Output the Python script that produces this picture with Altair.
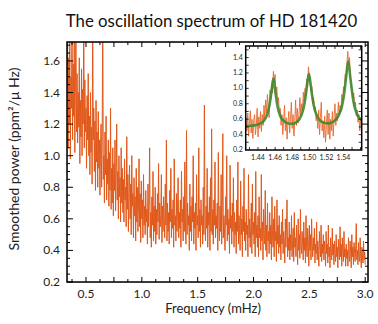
import altair as alt
import pandas as pd

# ---------------- data ----------------
F_START = 0.33
F_STEP = 0.005
power = [
    1.45, 1.78, 1.05, 1.62, 1.20, 1.85, 0.98, 1.50, 1.30, 1.90, 1.10, 1.58, 1.25, 1.72, 1.02, 1.45, 1.80, 1.15, 1.52, 1.08,
    1.40, 1.18, 1.62, 0.95, 1.35, 1.12, 1.55, 1.00, 1.42, 1.20, 1.90, 1.05, 1.48, 1.15, 1.30, 0.92, 1.38, 1.10, 1.52, 1.00,
    1.25, 0.88, 1.40, 1.02, 1.18, 0.82, 1.90, 1.10, 1.30, 0.90, 1.22, 0.78, 1.35, 0.96, 1.15, 0.80, 1.28, 0.92, 1.10, 0.75,
    1.05, 1.20, 0.80, 1.12, 1.90, 0.85, 1.00, 0.70, 1.15, 0.88, 1.25, 0.72, 0.98, 0.82, 1.10, 0.68, 1.02, 0.78, 1.30, 0.66,
    0.92, 0.70, 1.05, 0.62, 0.95, 0.78, 1.10, 0.65, 0.88, 1.20, 0.72, 0.90, 0.60, 1.00, 0.74, 0.86, 0.58, 1.05, 0.70, 0.92,
    0.64, 0.85, 0.58, 0.98, 0.72, 0.80, 0.55, 1.12, 0.66, 0.88, 0.52, 0.78, 0.94, 0.60, 0.82, 0.50, 1.00, 0.68, 0.76, 0.48,
    0.86, 0.62, 0.74, 0.46, 0.92, 0.58, 0.80, 0.52, 0.70, 0.98, 0.55, 0.76, 0.45, 0.84, 0.60, 0.72, 0.48, 0.88, 0.56, 0.68,
    0.50, 0.78, 0.58, 0.66, 0.44, 0.82, 0.55, 0.70, 1.05, 0.48, 0.64, 0.42, 0.74, 0.56, 0.90, 0.46, 0.68, 0.52, 0.80, 0.44,
    0.66, 0.50, 0.76, 0.58, 0.95, 0.47, 0.70, 0.55, 0.62, 0.88, 0.45, 0.68, 0.52, 0.74, 0.60, 0.48, 0.82, 0.56, 1.10, 0.46,
    0.70, 0.52, 0.64, 0.44, 0.78, 0.58, 0.92, 0.48, 0.66, 0.54, 0.72, 0.42, 0.98, 0.56, 0.62, 0.46, 0.76, 0.52, 0.68, 0.86,
    0.48, 0.64, 0.54, 0.72, 0.42, 0.90, 0.58, 0.66, 0.46, 0.74, 0.52, 0.96, 0.60, 0.44, 1.16, 0.50, 0.70, 0.56, 0.62, 0.40,
    0.82, 0.52, 0.68, 0.46, 0.74, 0.58, 1.00, 0.44, 0.64, 0.54, 0.70, 0.40, 0.88, 0.56, 0.62, 0.48, 1.05, 0.52, 0.66, 0.42,
    0.72, 0.56, 0.62, 0.44, 0.80, 0.50, 1.32, 0.58, 0.46, 0.68, 0.54, 0.92, 0.42, 0.64, 0.56, 0.74, 0.40, 0.86, 0.52, 1.17,
    0.50, 0.66, 0.44, 0.72, 0.56, 0.96, 0.48, 0.62, 0.54, 0.70, 0.40, 1.02, 0.58, 0.46, 0.68, 0.52, 0.88, 0.44, 0.64, 1.14,
    0.48, 0.62, 0.54, 0.40, 0.74, 0.56, 1.00, 0.46, 0.66, 0.50, 0.60, 0.38, 0.94, 0.54, 0.62, 0.44, 0.70, 0.52, 0.86, 0.42,
    0.64, 0.50, 0.58, 0.38, 0.72, 0.52, 0.96, 0.44, 0.62, 0.54, 0.40, 0.84, 0.50, 0.60, 0.36, 0.68, 0.52, 0.92, 0.46, 0.58,
    0.40, 0.66, 0.50, 0.56, 0.36, 0.88, 0.48, 0.60, 0.42, 0.54, 0.70, 0.38, 0.82, 0.50, 0.58, 0.44, 0.64, 0.36, 0.90, 0.48,
    0.56, 0.42, 0.62, 0.36, 0.74, 0.48, 0.54, 0.40, 0.88, 0.46, 0.58, 0.34, 0.66, 0.50, 0.44, 0.78, 0.40, 0.56, 0.36, 0.70,
    0.46, 0.52, 0.38, 0.64, 0.44, 0.56, 0.34, 0.74, 0.48, 0.42, 0.60, 0.36, 0.68, 0.46, 0.52, 0.33, 0.72, 0.44, 0.56, 0.38,
    0.62, 0.42, 0.50, 0.34, 0.58, 0.44, 0.66, 0.38, 0.52, 0.46, 0.32, 0.60, 0.42, 0.54, 0.72, 0.36, 0.48, 0.40, 0.58, 0.34,
    0.50, 0.40, 0.62, 0.36, 0.46, 0.54, 0.33, 0.64, 0.42, 0.48, 0.36, 0.56, 0.44, 0.31, 0.60, 0.40, 0.50, 0.35, 0.66, 0.42,
    0.38, 0.52, 0.44, 0.34, 0.58, 0.40, 0.48, 0.32, 0.62, 0.42, 0.36, 0.54, 0.46, 0.30, 0.56, 0.40, 0.50, 0.34, 0.60, 0.44,
    0.36, 0.48, 0.40, 0.54, 0.32, 0.44, 0.38, 0.58, 0.34, 0.46, 0.40, 0.30, 0.52, 0.42, 0.36, 0.56, 0.33, 0.44, 0.38, 0.50,
    0.34, 0.46, 0.40, 0.30, 0.52, 0.38, 0.44, 0.32, 0.56, 0.36, 0.42, 0.29, 0.48, 0.40, 0.34, 0.54, 0.37, 0.44, 0.31, 0.46,
    0.38, 0.33, 0.50, 0.36, 0.42, 0.29, 0.47, 0.39, 0.34, 0.55, 0.36, 0.44, 0.30, 0.48, 0.38, 0.33, 0.52, 0.36, 0.41, 0.30,
    0.44, 0.35, 0.40, 0.30, 0.48, 0.37, 0.33, 0.46, 0.39, 0.29, 0.50, 0.36, 0.42, 0.31, 0.45, 0.38, 0.33, 0.43, 0.57, 0.34,
    0.40, 0.31, 0.45, 0.36, 0.33, 0.48, 0.35, 0.29, 0.42, 0.37, 0.32, 0.46, 0.34, 0.39, 0.31,
]
freq = [round(F_START + F_STEP * i, 4) for i in range(len(power))]

# inset: zoom on 1.43 - 1.56 mHz
I_START = 1.426
I_STEP = 0.001
inset_power = [
    0.62, 0.45, 0.68, 0.38, 0.55, 0.71, 0.42, 0.60, 0.35, 0.58,
    0.66, 0.40, 0.52, 0.74, 0.37, 0.63, 0.48, 0.70, 0.44, 0.66,
    0.52, 0.78, 0.60, 0.85, 0.68, 0.92, 0.75, 0.62, 0.98, 0.86,
    1.05, 0.94, 1.22, 1.08, 1.18, 0.92, 1.02, 0.80, 0.88, 0.68,
    0.74, 0.52, 0.66, 0.40, 0.58, 0.78, 0.45, 0.62, 0.34, 0.55,
    0.70, 0.42, 0.60, 0.82, 0.48, 0.66, 0.38, 0.57, 0.85, 0.52,
    0.74, 0.55, 0.66, 0.88, 0.64, 0.80, 0.70, 0.95, 0.82, 1.00,
    0.90, 1.12, 1.02, 1.28, 1.14, 1.05, 0.96, 1.02, 0.80, 0.88,
    0.70, 0.76, 0.58, 0.66, 0.48, 0.72, 0.40, 0.62, 0.82, 0.45,
    0.58, 0.36, 0.64, 0.30, 0.52, 0.72, 0.40, 0.68, 0.34, 0.60,
    0.45, 0.70, 0.38, 0.62, 0.80, 0.52, 0.68, 0.58, 0.82, 0.66,
    0.78, 0.70, 0.92, 0.84, 1.02, 0.96, 1.18, 1.10, 1.32, 1.48,
    1.30, 1.40, 1.16, 1.06, 0.98, 0.88, 0.94, 0.76, 0.82, 0.64,
    0.72, 0.56, 0.66, 0.45, 0.60, 0.50,
]
inset_freq = [round(I_START + I_STEP * i, 4) for i in range(len(inset_power))]

fit_freq = [1.426, 1.432, 1.438, 1.443, 1.447, 1.450, 1.452, 1.454, 1.456, 1.458,
            1.460, 1.462, 1.464, 1.466, 1.469, 1.473, 1.478, 1.482, 1.486, 1.489,
            1.492, 1.494, 1.496, 1.4975, 1.4995, 1.5015, 1.503, 1.505, 1.507, 1.510,
            1.514, 1.518, 1.522, 1.526, 1.530, 1.534, 1.537, 1.539, 1.541, 1.543,
            1.5455, 1.548, 1.550, 1.552, 1.554, 1.557, 1.561]
fit_power = [0.51, 0.515, 0.525, 0.545, 0.58, 0.64, 0.71, 0.82, 0.98, 1.13,
             0.98, 0.82, 0.71, 0.64, 0.59, 0.555, 0.54, 0.545, 0.57, 0.61,
             0.69, 0.78, 0.92, 1.06, 1.19, 1.06, 0.93, 0.79, 0.70, 0.62,
             0.57, 0.55, 0.545, 0.555, 0.585, 0.64, 0.72, 0.81, 0.95, 1.14,
             1.35, 1.14, 0.96, 0.81, 0.72, 0.64, 0.59]

x_labels = ["0.5", "1.0", "1.5", "2.0", "2.5", "3.0"]
y_labels = ["0.2", "0.4", "0.6", "0.8", "1.0", "1.2", "1.4", "1.6"]
x_major = [0.5, 0.75, 1.0, 1.25, 1.5, 1.75, 2.0, 2.25, 2.5, 2.75, 3.0]
x_minor = [0.375, 0.625, 0.875, 1.125, 1.375, 1.625, 1.875, 2.125, 2.375, 2.625, 2.875]
y_major = [0.2, 0.4, 0.6, 0.8, 1.0, 1.2, 1.4, 1.6]
y_minor = [0.25, 0.3, 0.35, 0.45, 0.5, 0.55, 0.65, 0.7, 0.75, 0.85, 0.9, 0.95,
           1.05, 1.1, 1.15, 1.25, 1.3, 1.35, 1.45, 1.5, 1.55, 1.65, 1.7]
ix_labels = ["1.44", "1.46", "1.48", "1.50", "1.52", "1.54"]
iy_labels = ["0.2", "0.4", "0.6", "0.8", "1.0", "1.2", "1.4"]
ix_ticks = [1.43, 1.44, 1.45, 1.46, 1.47, 1.48, 1.49, 1.50, 1.51, 1.52, 1.53, 1.54, 1.55, 1.56]
iy_ticks = [0.3, 0.4, 0.5, 0.6, 0.7, 0.8, 0.9, 1.0, 1.1, 1.2, 1.3, 1.4, 1.5]

TITLE = "The oscillation spectrum of HD 181420"
X_TITLE = "Frequency (mHz)"
Y_TITLE = "Smoothed power (ppm²/μ Hz)"

# ---------------- layout / style ----------------
W, H = 301, 240
X_DOM = [0.33, 3.025]
Y_DOM = [0.2, 1.72]
IX_DOM = [1.4256, 1.5613]
IY_DOM = [0.2, 1.55]
IX_PX = [178.7, 294.7]
IY_PX = [108, 4]
FONT = "Lato"
TXT = "#222222"
ORANGE = "#e0581a"

xs = alt.Scale(domain=X_DOM, nice=False, zero=False)
ys = alt.Scale(domain=Y_DOM, nice=False, zero=False)
ixs = alt.Scale(domain=IX_DOM, range=IX_PX, nice=False, zero=False)
iys = alt.Scale(domain=IY_DOM, range=IY_PX, nice=False, zero=False)

df = pd.DataFrame({"f": freq, "p": power})

line = alt.Chart(df).mark_line(color=ORANGE, strokeWidth=1.0, clip=True).encode(
    x=alt.X("f:Q", scale=xs, axis=None),
    y=alt.Y("p:Q", scale=ys, axis=None),
)

one = pd.DataFrame({"a": [0]})
frame = alt.Chart(one).mark_rect(fill="white", fillOpacity=0, stroke="black", strokeWidth=1.5).encode(
    x=alt.value(0), x2=alt.value(W), y=alt.value(0), y2=alt.value(H))


def xticks(vals, ln):
    d = pd.DataFrame({"v": vals})
    b = alt.Chart(d).mark_rule(color="black", strokeWidth=1).encode(
        x=alt.X("v:Q", scale=xs, axis=None), y=alt.value(H), y2=alt.value(H - ln))
    t = alt.Chart(d).mark_rule(color="black", strokeWidth=1).encode(
        x=alt.X("v:Q", scale=xs, axis=None), y=alt.value(0), y2=alt.value(ln))
    return [b, t]


def yticks(vals, ln):
    d = pd.DataFrame({"v": vals})
    l = alt.Chart(d).mark_rule(color="black", strokeWidth=1).encode(
        y=alt.Y("v:Q", scale=ys, axis=None), x=alt.value(0), x2=alt.value(ln))
    r = alt.Chart(d).mark_rule(color="black", strokeWidth=1).encode(
        y=alt.Y("v:Q", scale=ys, axis=None), x=alt.value(W), x2=alt.value(W - ln))
    return [l, r]


xl = pd.DataFrame({"t": x_labels, "v": [float(s) for s in x_labels]})
xlab = alt.Chart(xl).mark_text(font=FONT, fontSize=12, color=TXT, baseline="top").encode(
    x=alt.X("v:Q", scale=xs, axis=None), y=alt.value(H + 7), text="t:N")
yl = pd.DataFrame({"t": y_labels, "v": [float(s) for s in y_labels]})
ylab = alt.Chart(yl).mark_text(font=FONT, fontSize=12, color=TXT, align="right", baseline="middle").encode(
    y=alt.Y("v:Q", scale=ys, axis=None), x=alt.value(-7), text="t:N")
xtit = alt.Chart(one).mark_text(font=FONT, fontSize=13, color=TXT, baseline="top", text=X_TITLE).encode(
    x=alt.value(146), y=alt.value(H + 21))
ytit = alt.Chart(one).mark_text(font=FONT, fontSize=14, color=TXT, baseline="middle", angle=270,
                                text=Y_TITLE).encode(
    x=alt.value(-52), y=alt.value(117))

main = alt.layer(line, frame, *xticks(x_major, 5), *xticks(x_minor, 3),
                 *yticks(y_major, 6), *yticks(y_minor, 3), xlab, ylab, xtit, ytit)

# ---------------- inset ----------------
box = pd.DataFrame({"x0": [IX_DOM[0]], "x1": [IX_DOM[1]], "y0": [IY_DOM[0]], "y1": [IY_DOM[1]]})
ibg = alt.Chart(box).mark_rect(fill="white").encode(
    x=alt.X("x0:Q", scale=ixs, axis=None), x2="x1", y=alt.Y("y0:Q", scale=iys, axis=None), y2="y1")
iframe = alt.Chart(box).mark_rect(fill="white", fillOpacity=0, stroke="black", strokeWidth=1.5).encode(
    x=alt.X("x0:Q", scale=ixs, axis=None), x2="x1", y=alt.Y("y0:Q", scale=iys, axis=None), y2="y1")

idf = pd.DataFrame({"f": inset_freq, "p": inset_power})
iline = alt.Chart(idf).mark_line(color="#e8682c", strokeWidth=0.9, clip=False).encode(
    x=alt.X("f:Q", scale=ixs, axis=None), y=alt.Y("p:Q", scale=iys, axis=None))
fdf = pd.DataFrame({"f": fit_freq, "p": fit_power})
ifit = alt.Chart(fdf).mark_line(color="#3f8a30", strokeWidth=2.6, opacity=0.9, interpolate="monotone").encode(
    x=alt.X("f:Q", scale=ixs, axis=None), y=alt.Y("p:Q", scale=iys, axis=None))

itd = pd.DataFrame({"v": ix_ticks})
itb = alt.Chart(itd).mark_rule(color="black", strokeWidth=0.8).encode(
    x=alt.X("v:Q", scale=ixs, axis=None), y=alt.value(IY_PX[0]), y2=alt.value(IY_PX[0] - 3))
itt = alt.Chart(itd).mark_rule(color="black", strokeWidth=0.8).encode(
    x=alt.X("v:Q", scale=ixs, axis=None), y=alt.value(IY_PX[1]), y2=alt.value(IY_PX[1] + 3))
iyd = pd.DataFrame({"v": iy_ticks})
itl = alt.Chart(iyd).mark_rule(color="black", strokeWidth=0.8).encode(
    y=alt.Y("v:Q", scale=iys, axis=None), x=alt.value(IX_PX[0]), x2=alt.value(IX_PX[0] + 3))
itr = alt.Chart(iyd).mark_rule(color="black", strokeWidth=0.8).encode(
    y=alt.Y("v:Q", scale=iys, axis=None), x=alt.value(IX_PX[1]), x2=alt.value(IX_PX[1] - 3))

ixl = pd.DataFrame({"t": ix_labels, "v": [float(s) for s in ix_labels]})
ixlab = alt.Chart(ixl).mark_text(font=FONT, fontSize=7, color=TXT, baseline="top").encode(
    x=alt.X("v:Q", scale=ixs, axis=None), y=alt.value(IY_PX[0] + 4), text="t:N")
iyl = pd.DataFrame({"t": iy_labels, "v": [float(s) for s in iy_labels]})
iylab = alt.Chart(iyl).mark_text(font=FONT, fontSize=7, color=TXT, align="right", baseline="middle").encode(
    y=alt.Y("v:Q", scale=iys, axis=None), x=alt.value(IX_PX[0] - 3), text="t:N")

inset = alt.layer(ibg, iline, ifit, iframe, itb, itt, itl, itr, ixlab, iylab)

chart = alt.layer(main, inset).resolve_scale(x="independent", y="independent").properties(
    width=W, height=H,
    title=alt.TitleParams(TITLE, font=FONT, fontSize=16.8,
                          fontWeight="normal", color="#111111", anchor="middle", offset=10, dx=-6),
    padding={"left": 67, "top": 42, "right": 10, "bottom": 42},
    autosize=alt.AutoSizeParams(type="none"),
).configure_view(stroke=None).configure(background="white")

chart.save("out.html", embed_options={"renderer": "svg", "actions": False})
